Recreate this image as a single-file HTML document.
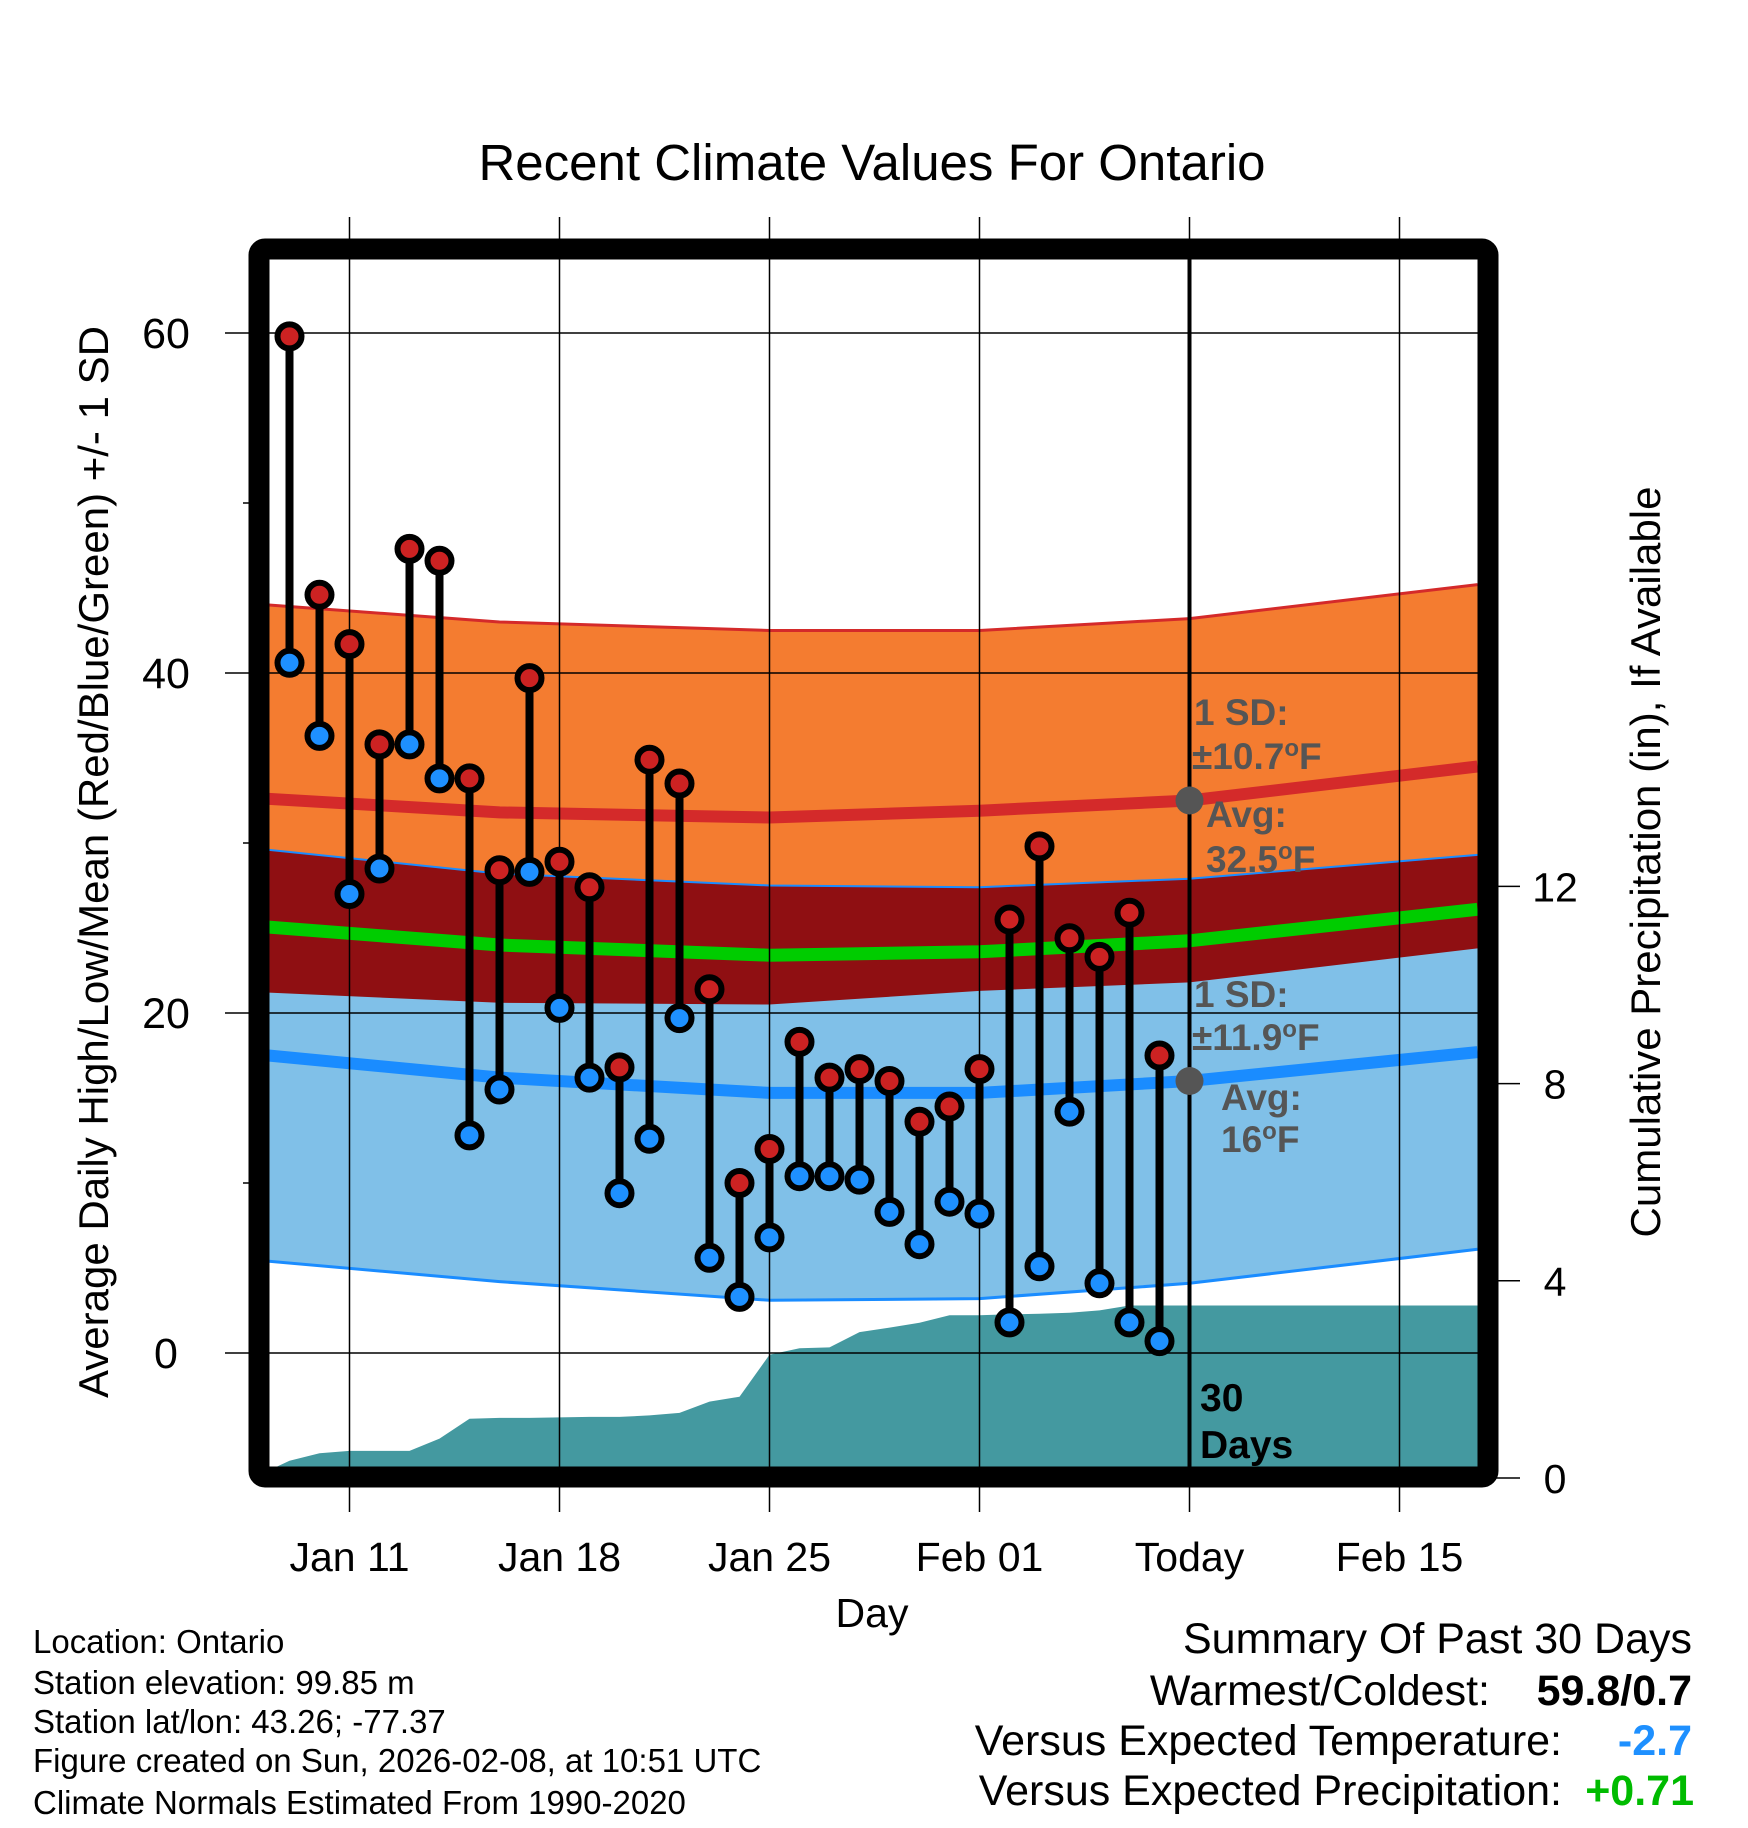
<!DOCTYPE html>
<html><head><meta charset="utf-8"><style>
body{margin:0;background:#fff}
svg{display:block;font-family:"Liberation Sans",sans-serif}
</style></head><body>
<svg id="c" width="1748" height="1828" viewBox="0 0 1748 1828" xmlns="http://www.w3.org/2000/svg">
<defs><clipPath id="clip"><rect x="269" y="259" width="1209" height="1208"/></clipPath></defs>
<g id="plot" clip-path="url(#clip)"></g>
<g id="over"></g>
</svg>
<script>
// ---- data ----
const normDays = [-2.7, 5, 14, 21, 28, 37.6];
const highAvg = [32.6, 31.8, 31.5, 31.9, 32.5, 34.5];
const highSD  = [11.4, 11.2, 11.0, 10.6, 10.7, 10.7];
const lowAvg  = [17.5, 16.2, 15.3, 15.3, 16.0, 17.7];
const lowSD   = [12.1, 12.0, 12.2, 12.1, 11.9, 11.6];
const obsDays = [-2,-1,0,1,2,3,4,5,6,7,8,9,10,11,12,13,14,15,16,17,18,19,20,21,22,23,24,25,26,27];
const highs = [59.8,44.6,41.7,35.8,47.3,46.6,33.8,28.4,39.7,28.9,27.4,16.8,34.9,33.5,21.4,10.0,12.0,18.3,16.2,16.7,16.0,13.6,14.5,16.7,25.5,29.8,24.4,23.3,25.9,17.5];
const lows  = [40.6,36.3,27.0,28.5,35.8,33.8,12.8,15.5,28.3,20.3,16.2,9.4,12.6,19.7,5.6,3.3,6.8,10.4,10.4,10.2,8.3,6.4,8.9,8.2,1.8,5.1,14.2,4.1,1.8,0.7];
const precipDays = [-2.7,-2,-1,0,1,2,3,4,5,6,7,8,9,10,11,12,13,14,15,16,17,18,19,20,21,22,23,24,25,26,27,28,37.7];
const precip = [0.15,0.35,0.5,0.55,0.55,0.55,0.8,1.2,1.22,1.22,1.23,1.24,1.24,1.27,1.32,1.55,1.65,2.5,2.63,2.65,2.96,3.05,3.15,3.3,3.3,3.32,3.33,3.35,3.4,3.5,3.5,3.5,3.5];
const tempTicks = [0,20,40,60];
const tempMinor = [10,30,50];
const precipTicks = [0,4,8,12];
const xTickDays = [0,7,14,21,28,35];
const xTickLabels = ["Jan 11","Jan 18","Jan 25","Feb 01","Today","Feb 15"];
// ---- scales ----
const X = d => 349.5 + d*30;
const Y = t => 1353 - t*17.0;
const P = p => 1478 - p*49.3;
const NS="http://www.w3.org/2000/svg";
function mk(tag, attrs, parent){const e=document.createElementNS(NS,tag);for(const k in attrs)e.setAttribute(k,attrs[k]);parent.appendChild(e);return e;}
const plot=document.getElementById('plot'), over=document.getElementById('over'), svg=document.getElementById('c');
const line = (xs,ys)=>xs.map((x,i)=>(i?'L':'M')+x.toFixed(1)+','+ys[i].toFixed(1)).join('');
const nx = normDays.map(X);
const hiU = highAvg.map((v,i)=>Y(v+highSD[i])), hiL = highAvg.map((v,i)=>Y(v-highSD[i]));
const loU = lowAvg.map((v,i)=>Y(v+lowSD[i])), loL = lowAvg.map((v,i)=>Y(v-lowSD[i]));
const band=(u,l)=>line(nx,u)+line(nx.slice().reverse(),l.slice().reverse()).replace('M','L')+'Z';
let e;
e=mk('path',{d:band(hiU,hiL),fill:'#f47c30'},plot);

e=mk('path',{d:band(loU,loL),fill:'#80c0e8'},plot);

e=mk('path',{d:band(loU,hiL),fill:'#8f0f12'},plot);

e=mk('path',{d:line(nx,hiU),fill:'none',stroke:'#d42a2a','stroke-width':3},plot);

e=mk('path',{d:line(nx,loU),fill:'none',stroke:'#1a8cff','stroke-width':2},plot);

e=mk('path',{d:line(nx,loL),fill:'none',stroke:'#1a8cff','stroke-width':3},plot);

e=mk('path',{d:line(nx,highAvg.map(Y)),fill:'none',stroke:'#d42a2a','stroke-width':12},plot);

e=mk('path',{d:line(nx,lowAvg.map(Y)),fill:'none',stroke:'#1a8cff','stroke-width':12},plot);

e=mk('path',{d:line(nx,highAvg.map((v,i)=>Y((v+lowAvg[i])/2))),fill:'none',stroke:'#00cc00','stroke-width':13},plot);

// precip area
const px=precipDays.map(X), py=precip.map(P);
e=mk('path',{d:line(px,py)+'L'+px[px.length-1]+',1490L'+px[0]+',1490Z',fill:'#4499a0'},plot);

// gridlines
xTickDays.forEach((d,i)=>{
  e=mk('line',{x1:X(d),x2:X(d),y1:217,y2:1512,stroke:'#000','stroke-width':1.5},over);
  
  e=mk('text',{x:X(d),y:1571,'font-size':41,'text-anchor':'middle'},svg);e.textContent=xTickLabels[i];
  
});
tempTicks.forEach(t=>{
  e=mk('line',{x1:225,x2:1478,y1:Y(t),y2:Y(t),stroke:'#000','stroke-width':1.5},over);
  
  e=mk('text',{x:166,y:Y(t)+15,'font-size':43,'text-anchor':'middle'},svg);e.textContent=t;
  
});
tempMinor.forEach(t=>{e=mk('line',{x1:243,x2:260,y1:Y(t),y2:Y(t),stroke:'#000','stroke-width':1.5},over);
  });
precipTicks.forEach(p=>{
  e=mk('line',{x1:1490,x2:1520,y1:P(p),y2:P(p),stroke:'#000','stroke-width':1.5},over);
  
  e=mk('text',{x:1555,y:P(p)+15,'font-size':41,'text-anchor':'middle'},svg);e.textContent=p;
  
});
// today line
e=mk('line',{x1:X(28),x2:X(28),y1:250,y2:1475,stroke:'#000','stroke-width':4},over);

// observations
obsDays.forEach((d,i)=>{
  const x=X(d);
  e=mk('line',{x1:x,x2:x,y1:Y(highs[i]),y2:Y(lows[i]),stroke:'#000','stroke-width':8},over);
  
});
obsDays.forEach((d,i)=>{
  const x=X(d);
  e=mk('circle',{cx:x,cy:Y(highs[i]),r:12,fill:'#cc2222',stroke:'#000','stroke-width':6},over);
  
  e=mk('circle',{cx:x,cy:Y(lows[i]),r:12,fill:'#1e90ff',stroke:'#000','stroke-width':6},over);
  
});
// avg markers
const ti=4;
e=mk('circle',{cx:X(28),cy:Y(highAvg[ti]),r:14,fill:'#555'},over);

e=mk('circle',{cx:X(28),cy:Y(lowAvg[ti]),r:14,fill:'#555'},over);

// frame
e=mk('rect',{x:259,y:249,width:1229,height:1228,rx:6,fill:'none',stroke:'#000','stroke-width':21},over);

</script>
<svg style="position:absolute;left:0;top:0" width="1748" height="1828">
<g font-family="Liberation Sans, sans-serif">
<text x="872" y="180" font-size="51" text-anchor="middle">Recent Climate Values For Ontario</text>
<text transform="translate(108,862) rotate(-90)" font-size="42" text-anchor="middle">Average Daily High/Low/Mean (Red/Blue/Green) +/- 1 SD</text>
<text transform="translate(1660,862) rotate(-90)" font-size="42" text-anchor="middle">Cumulative Precipitation (in), If Available</text>
<text x="872" y="1627" font-size="41" text-anchor="middle">Day</text>
<g font-weight="bold" font-size="37" fill="#555">
<text x="1194" y="725">1 SD:</text>
<text x="1192" y="769">±10.7<tspan dy="-13" font-size="24">o</tspan><tspan dy="13">F</tspan></text>
<text x="1206" y="827">Avg:</text>
<text x="1206" y="872">32.5<tspan dy="-13" font-size="24">o</tspan><tspan dy="13">F</tspan></text>
<text x="1194" y="1007">1 SD:</text>
<text x="1192" y="1050">±11.9<tspan dy="-13" font-size="24">o</tspan><tspan dy="13">F</tspan></text>
<text x="1221" y="1110">Avg:</text>
<text x="1221" y="1152">16<tspan dy="-13" font-size="24">o</tspan><tspan dy="13">F</tspan></text>
</g>
<g font-weight="bold" font-size="39">
<text x="1200" y="1411">30</text>
<text x="1200" y="1458">Days</text>
</g>
<g font-size="33">
<text x="33" y="1653">Location: Ontario</text>
<text x="33" y="1694">Station elevation: 99.85 m</text>
<text x="33" y="1733">Station lat/lon: 43.26; -77.37</text>
<text x="33" y="1772">Figure created on Sun, 2026-02-08, at 10:51 UTC</text>
<text x="33" y="1814">Climate Normals Estimated From 1990-2020</text>
</g>
<g font-size="43">
<text x="1692" y="1653" text-anchor="end">Summary Of Past 30 Days</text>
<text x="1490" y="1705" text-anchor="end">Warmest/Coldest:</text>
<text x="1692" y="1705" text-anchor="end" font-weight="bold">59.8/0.7</text>
<text x="1562" y="1755" text-anchor="end">Versus Expected Temperature:</text>
<text x="1692" y="1755" text-anchor="end" font-weight="bold" fill="#1e90ff">-2.7</text>
<text x="1562" y="1805" text-anchor="end">Versus Expected Precipitation:</text>
<text x="1694" y="1805" text-anchor="end" font-weight="bold" fill="#00bb00">+0.71</text>
</g>
</g>
</svg>
</body></html>
